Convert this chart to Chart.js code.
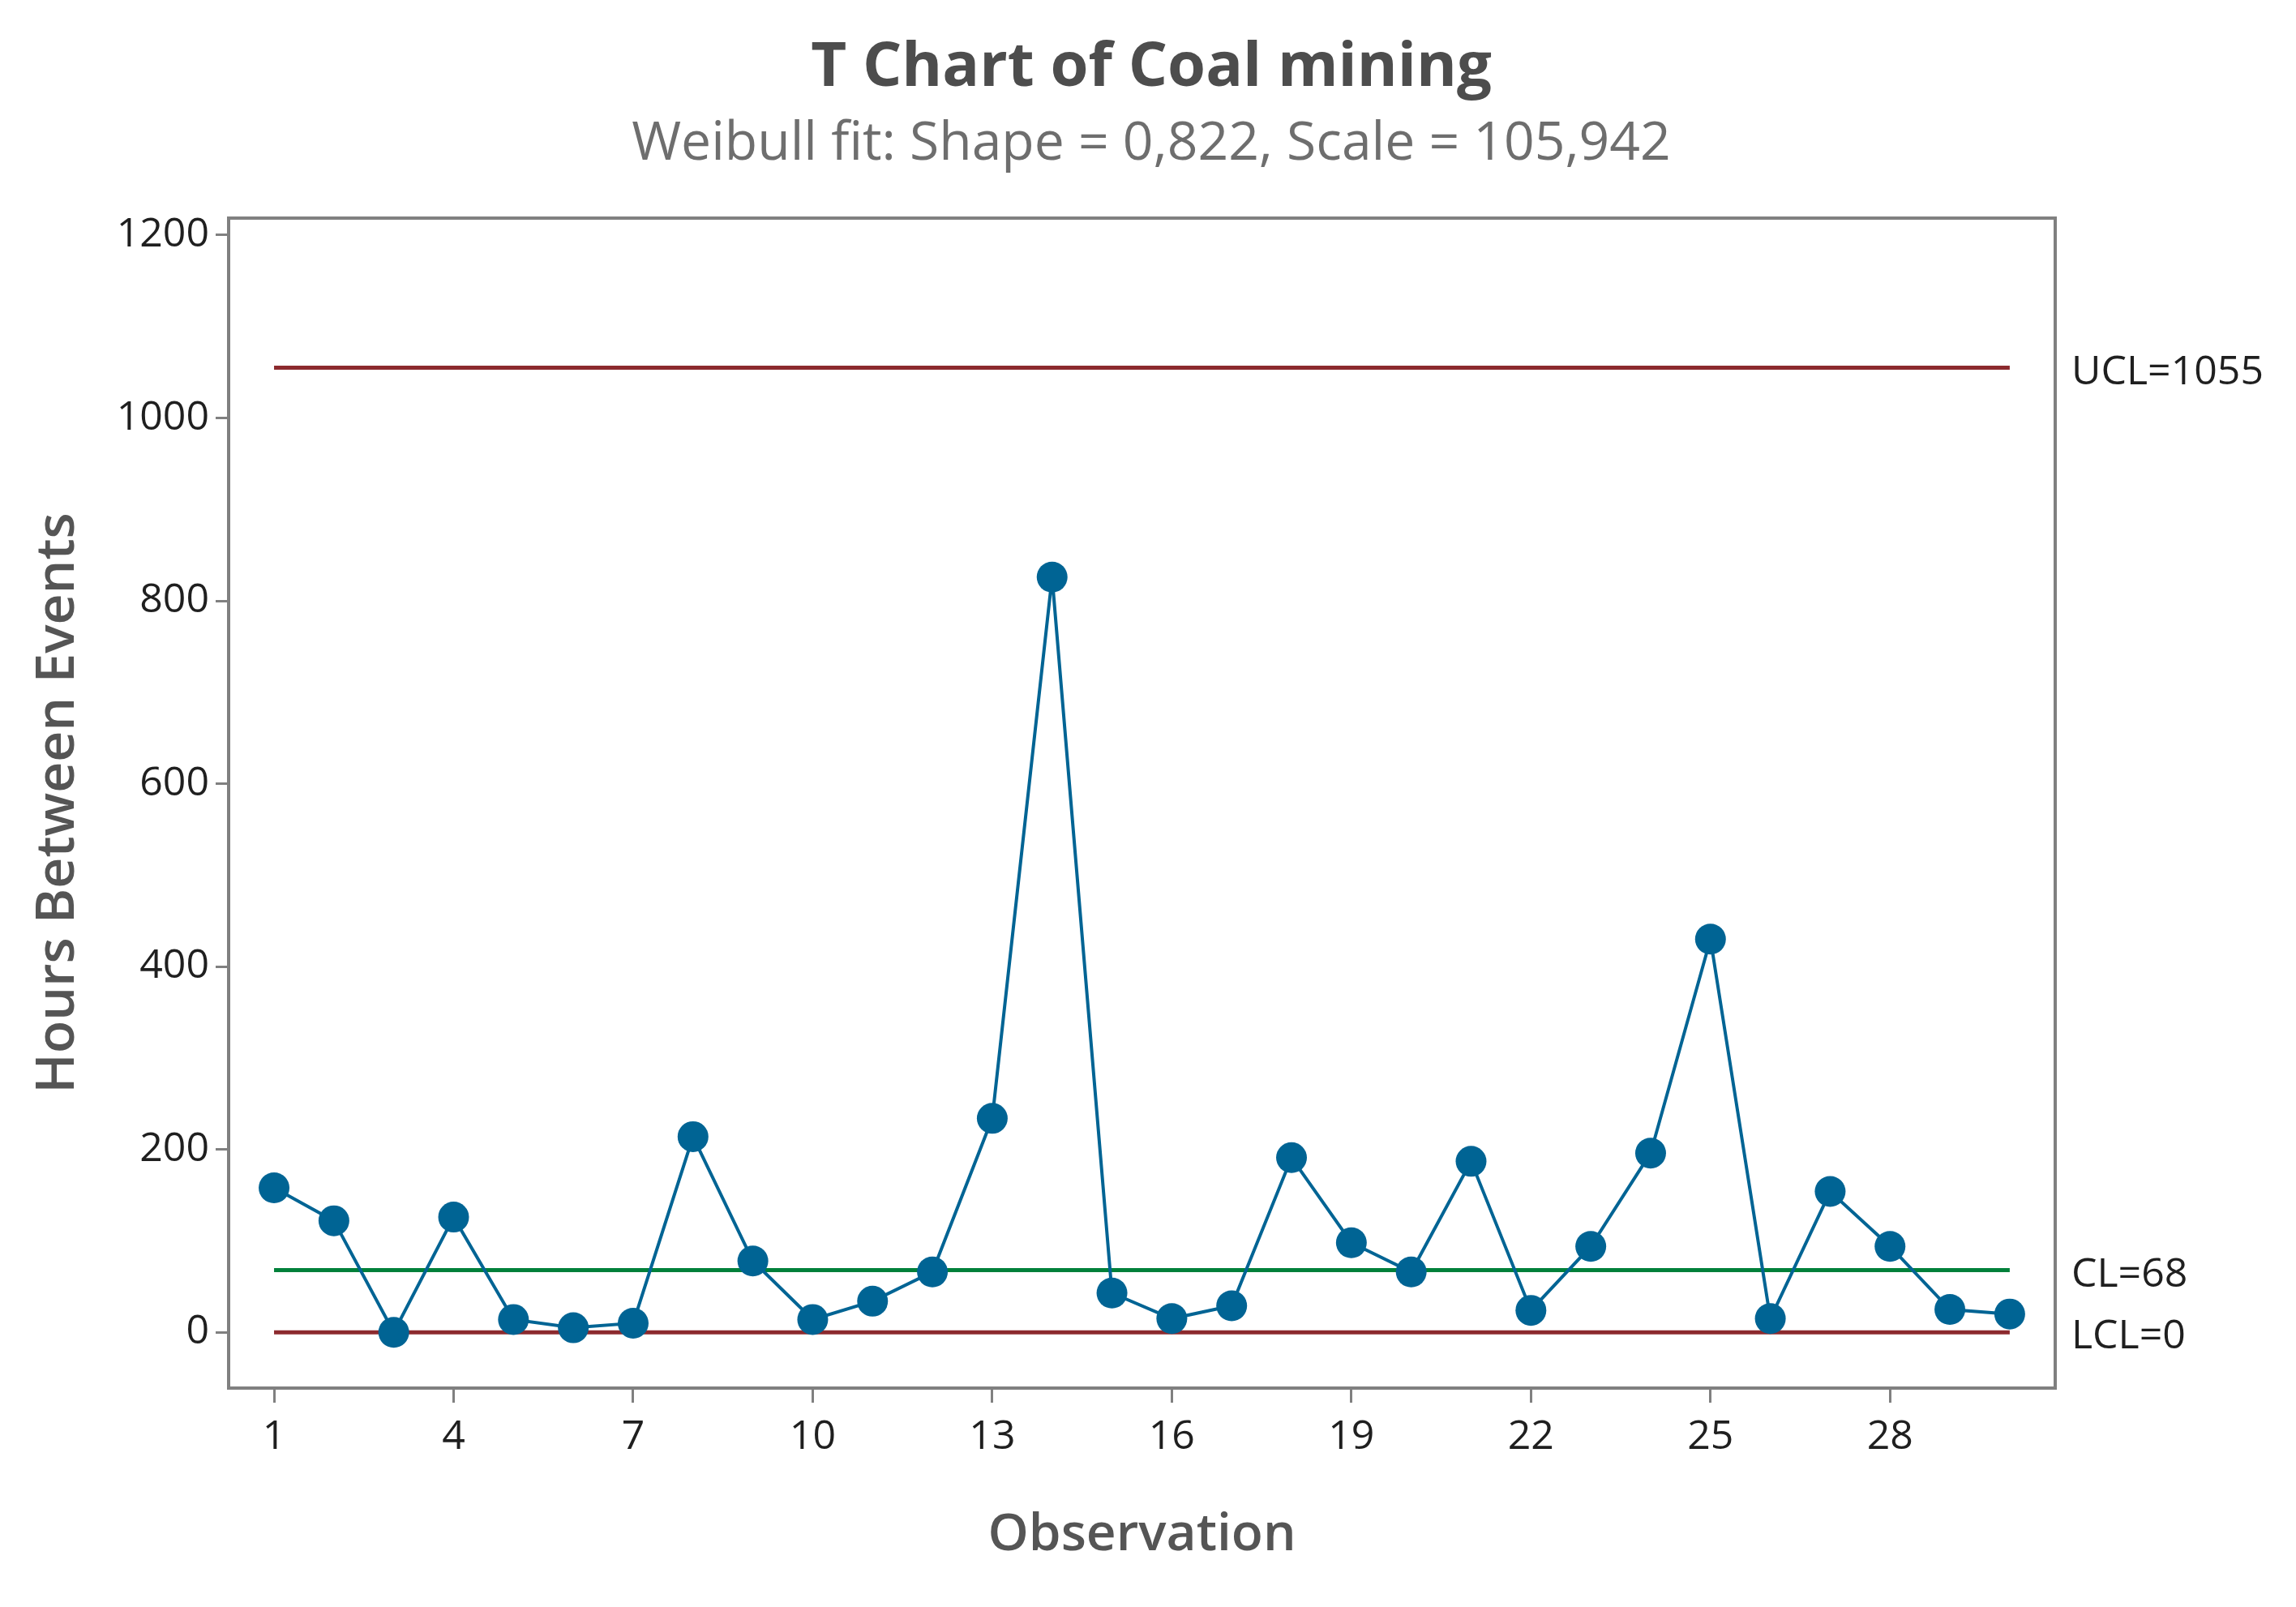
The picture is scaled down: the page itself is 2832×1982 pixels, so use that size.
<!DOCTYPE html>
<html>
<head>
<meta charset="utf-8">
<script src="https://cdn.jsdelivr.net/npm/chart.js@4/dist/chart.umd.min.js"></script>
<style>
  html, body { margin: 0; padding: 0; background: #fff; }
  #wrap { width: 2832px; height: 1982px; }
</style>
</head>
<body>
<div id="wrap"><canvas id="c" width="2832" height="1982"></canvas></div>
<script>
const chartTitle = "T Chart of Coal mining";
const chartSubtitle = "Weibull fit: Shape = 0,822, Scale = 105,942";
const xAxisTitle = "Observation";
const yAxisTitle = "Hours Between Events";
const observations = [1,2,3,4,5,6,7,8,9,10,11,12,13,14,15,16,17,18,19,20,21,22,23,24,25,26,27,28,29,30];
const hoursBetween = [158,122,0,126,14,5,10,214,78,14,34,66,234,826,43,15,29,191,98,66,187,24,94,196,430,15,154,94,25,20];
const xTickValues = [1,4,7,10,13,16,19,22,25,28];
const yTickValues = [0,200,400,600,800,1000,1200];
const UCL = 1055, CL = 68, LCL = 0;
const limitLabels = [
  {text: "UCL=1055", value: UCL},
  {text: "CL=68", value: CL},
  {text: "LCL=0", value: LCL}
];

const FRAME = '#808080';
const seriesColor = '#006494';
const redColor = '#8c2a2e';
const greenColor = '#00803a';

const pts = observations.map((o, i) => ({x: o, y: hoursBetween[i]}));
const first = observations[0], last = observations[observations.length - 1];

const decorPlugin = {
  id: 'decor',
  beforeDraw(chart) {
    const ctx = chart.ctx;
    ctx.save();
    ctx.fillStyle = '#ffffff';
    ctx.fillRect(0, 0, chart.width, chart.height);
    ctx.restore();
  },
  afterDraw(chart) {
    const ctx = chart.ctx;
    const a = chart.chartArea;
    ctx.save();
    // frame
    ctx.strokeStyle = FRAME;
    ctx.lineWidth = 4;
    ctx.strokeRect(a.left, a.top, a.right - a.left, a.bottom - a.top);
    // titles
    ctx.textAlign = 'center';
    ctx.textBaseline = 'middle';
    ctx.fillStyle = '#4d4d4d';
    ctx.font = 'bold 76px "Open Sans"';
    ctx.fillText(chartTitle, 1420, 84);
    ctx.fillStyle = '#6e6e6e';
    ctx.font = '66px "Open Sans"';
    ctx.fillText(chartSubtitle, 1420, 178);
    // limit labels
    const y = chart.scales.y;
    ctx.textAlign = 'left';
    ctx.fillStyle = '#1f1f1f';
    ctx.font = '50px "Open Sans"';
    limitLabels.forEach(l => {
      ctx.fillText(l.text, a.right + 20, y.getPixelForValue(l.value) + 6);
    });
    ctx.restore();
  }
};

new Chart(document.getElementById('c'), {
  type: 'scatter',
  data: {
    datasets: [
      {
        label: 'T',
        data: pts,
        showLine: true,
        borderColor: seriesColor,
        backgroundColor: seriesColor,
        borderWidth: 4,
        pointRadius: 19,
        pointHoverRadius: 19,
        pointBorderWidth: 0,
        order: 0
      },
      {
        label: 'UCL',
        data: [{x: first, y: UCL}, {x: last, y: UCL}],
        showLine: true, borderColor: redColor, borderWidth: 5, pointRadius: 0, order: 1
      },
      {
        label: 'CL',
        data: [{x: first, y: CL}, {x: last, y: CL}],
        showLine: true, borderColor: greenColor, borderWidth: 5, pointRadius: 0, order: 1
      },
      {
        label: 'LCL',
        data: [{x: first, y: LCL}, {x: last, y: LCL}],
        showLine: true, borderColor: redColor, borderWidth: 5, pointRadius: 0, order: 1
      }
    ]
  },
  options: {
    responsive: false,
    animation: false,
    devicePixelRatio: 1,
    layout: { padding: { top: 269, right: 297, left: 0, bottom: 0 } },
    plugins: {
      legend: { display: false },
      tooltip: { enabled: false },
      title: { display: false }
    },
    scales: {
      x: {
        type: 'linear',
        min: 0.241,
        max: 30.76,
        afterBuildTicks(scale) { scale.ticks = xTickValues.map(v => ({value: v})); },
        afterFit(scale) { scale.height = 270; },
        grid: { display: true, drawOnChartArea: false, drawTicks: true, tickLength: 18, tickWidth: 3, tickColor: FRAME },
        border: { display: false },
        ticks: {
          color: '#1f1f1f',
          font: { family: '"Open Sans"', size: 50 },
          padding: 13,
          maxRotation: 0,
          autoSkip: false,
          callback: (v) => String(v)
        },
        title: {
          display: true,
          text: xAxisTitle,
          color: '#555555',
          font: { family: '"Open Sans"', size: 64, weight: '600' },
          padding: { top: 0, bottom: 50 }
        }
      },
      y: {
        type: 'linear',
        min: -61,
        max: 1218.6,
        afterBuildTicks(scale) { scale.ticks = yTickValues.map(v => ({value: v})); },
        afterFit(scale) { scale.width = 282; },
        grid: { display: true, drawOnChartArea: false, drawTicks: true, tickLength: 16, tickWidth: 3, tickColor: FRAME },
        border: { display: false },
        ticks: {
          color: '#1f1f1f',
          font: { family: '"Open Sans"', size: 50 },
          padding: 8,
          autoSkip: false,
          callback: (v) => String(v)
        },
        title: {
          display: true,
          text: yAxisTitle,
          color: '#555555',
          font: { family: '"Open Sans"', size: 66, weight: '600' },
          padding: { top: 33, bottom: 0 }
        }
      }
    }
  },
  plugins: [decorPlugin]
});
</script>
</body>
</html>
